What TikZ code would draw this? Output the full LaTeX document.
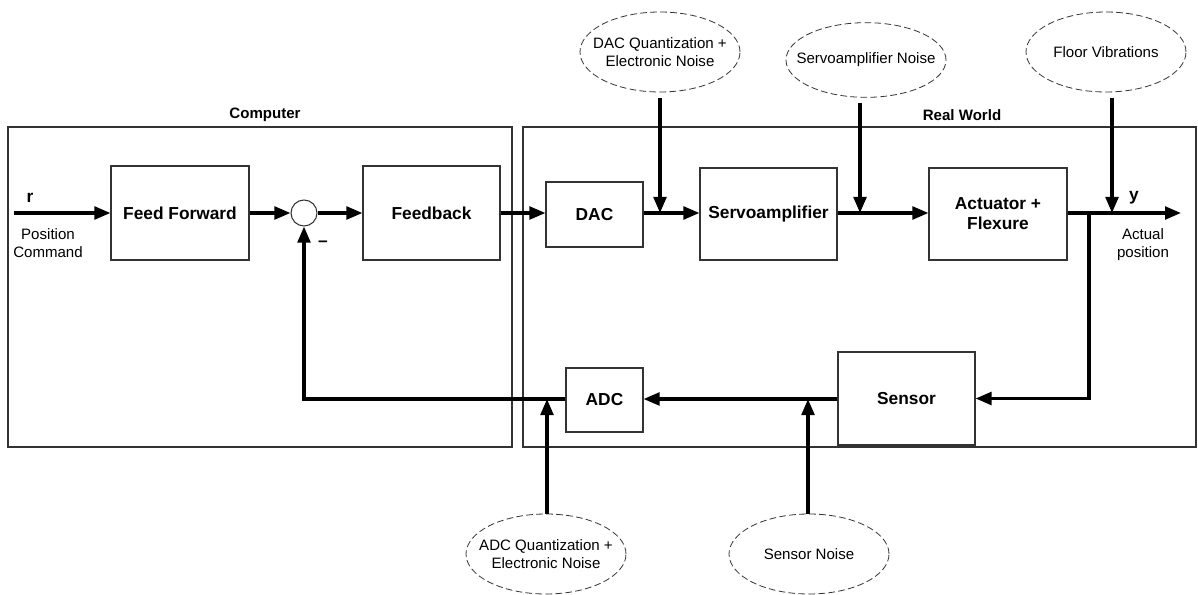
\documentclass[tikz,border=0pt]{standalone}
\usepackage{fontspec}
\setmainfont{Liberation Sans}
\usetikzlibrary{arrows.meta,shapes.geometric}

\tikzset{
  block/.style={draw=black!80, line width=0.8pt, align=center,
    font=\fontsize{13}{15}\selectfont\bfseries},
  noise/.style={draw=black!80, dash pattern=on 5pt off 2.5pt, line width=0.6pt,
    ellipse, inner sep=0pt, minimum width=120pt, minimum height=60pt},
  frame/.style={draw=black!80, line width=0.8pt},
  conn/.style={line width=2.4pt, -{Triangle[length=12pt,width=9.5pt]}},
  grp/.style={font=\fontsize{11.3}{13.5}\selectfont\bfseries},
  sig/.style={font=\fontsize{13}{15}\selectfont\bfseries},
  lbl/.style={align=center, font=\fontsize{11.3}{13.5}\selectfont}
}

\begin{document}
\begin{tikzpicture}[x=0.75pt,y=0.75pt,yscale=-1]
\useasboundingbox (0,0) rectangle (1198,595);

%Shape: Rectangle (Computer)
\draw [frame] (8,127) rectangle (512,447);
%Shape: Rectangle (Real World)
\draw [frame] (523,127) rectangle (1196,447);
\node [grp] (computer) at (265,115) {Computer};
\node [grp] (realworld) at (962,115) {Real World};

%Blocks
\node [block, minimum width=103.5pt, minimum height=70.5pt] (ff) at (180,213) {Feed Forward};
\node [draw=black!80, line width=0.8pt, circle, minimum size=19.5pt, inner sep=0pt] (sum) at (304,213) {};
\node [block, minimum width=102.75pt, minimum height=70.5pt] (fb) at (431.5,213) {Feedback};
\node [block, minimum width=72.75pt, minimum height=48.75pt] (dac) at (594.5,214.5) {DAC};
\node [block, minimum width=102.75pt, minimum height=69pt] (servo) at (768.5,214) {Servoamplifier};
\node [block, minimum width=103.5pt, minimum height=69pt] (act) at (998,214) {Actuator +\\Flexure};
\node [block, minimum width=102.75pt, minimum height=69.75pt] (sensor) at (906.5,398.5) {Sensor};
\node [block, minimum width=57.75pt, minimum height=48pt] (adc) at (604.5,400) {ADC};

%Noise sources
\node [noise, label={[lbl]center:DAC Quantization +\\Electronic Noise}] (dacn) at (660,52) {};
\node [noise, minimum height=56pt, label={[lbl]center:Servoamplifier Noise}] (servon) at (866,60) {};
\node [noise, label={[lbl]center:Floor Vibrations}] (floorn) at (1106,52) {};
\node [noise, label={[lbl]center:ADC Quantization +\\Electronic Noise}] (adcn) at (546,554) {};
\node [noise, label={[lbl]center:Sensor Noise}] (sensn) at (809,554) {};

%Junctions
\coordinate (rin) at (14,213);
\coordinate (j1) at (660,213);
\coordinate (j2) at (860,213);
\coordinate (j3) at (1112,213);
\coordinate (bp) at (1089,213);
\coordinate (yout) at (1181,213);
\coordinate (j4) at (808,399);
\coordinate (j5) at (547,399);

%Forward path
\draw [conn] (rin) -- (ff.west);
\draw [conn] (ff.east) -- (sum.west);
\draw [conn] (sum.east) -- (fb.west);
\draw [conn] (fb.east) -- (dac.west |- fb.east);
\draw [conn] (dac.east |- j1) -- (servo.west |- j1);
\draw [conn] (servo.east |- j2) -- (act.west |- j2);
\draw [conn] (act.east |- j3) -- (yout);

%Disturbances
\draw [conn, shorten <=4pt] (dacn.south -| j1) -- (j1);
\draw [conn, shorten <=4pt] (servon.south -| j2) -- (j2);
\draw [conn, shorten <=4pt] (floorn.south -| j3) -- (j3);
\draw [conn] (sensn.north -| j4) -- (j4);
\draw [conn] (adcn.north -| j5) -- (j5);

%Feedback path
\draw [conn] (bp) |- (sensor.east);
\draw [conn] (sensor.west |- j4) -- (adc.east |- j4);
\draw [conn] (adc.west |- j5) -| (sum.south);

% Text Node
\node [sig] (r) at (30,198) {r};
\node [lbl] (poscmd) at (48,243) {Position\\Command};
\node [sig] (y) at (1134,198) {y};
\node [lbl] (actpos) at (1143,245) {Actual\\position};
\node [sig] (minus) at (323,244) {--};

\end{tikzpicture}
\end{document}
